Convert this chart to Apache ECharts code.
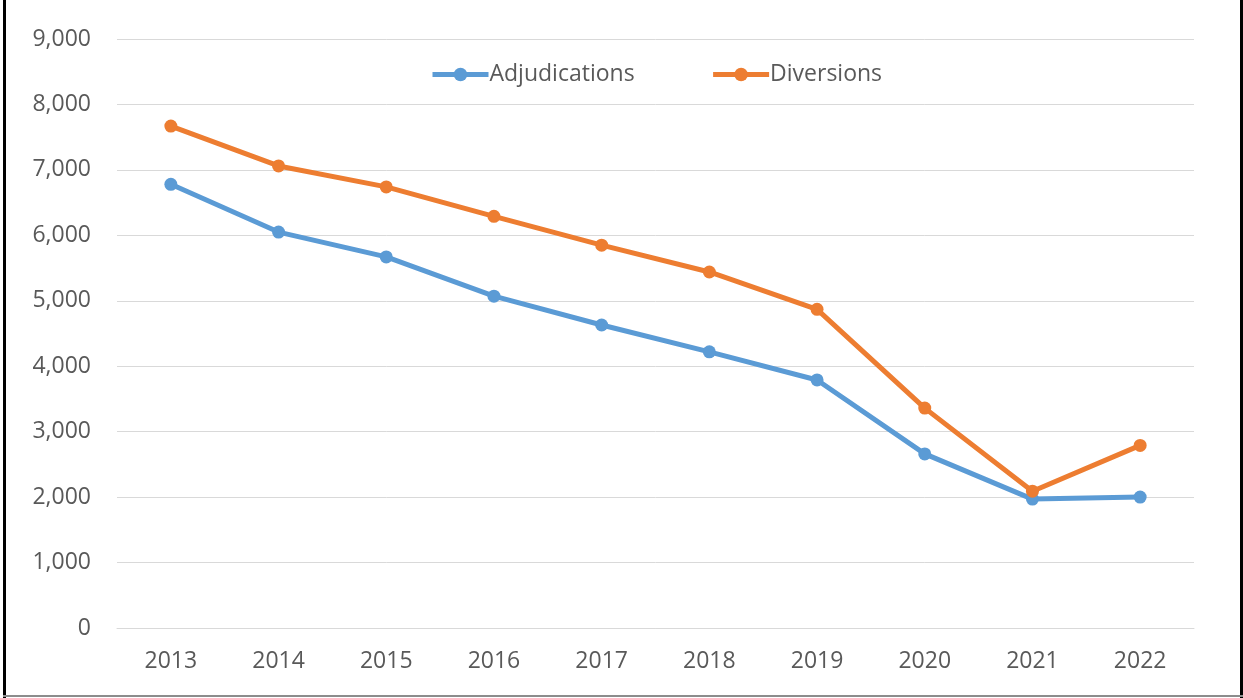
<!DOCTYPE html>
<html>
<head>
<meta charset="utf-8">
<title>Adjudications and Diversions</title>
<script src="https://cdn.jsdelivr.net/npm/echarts@6/dist/echarts.min.js"></script>
<style>
    html, body { margin: 0; padding: 0; background: #fff; }
    #main { width: 1243px; height: 698px; }
</style>
</head>
<body>
<div id="main"></div>
<script>
// data
var years = ['2013', '2014', '2015', '2016', '2017', '2018', '2019', '2020', '2021', '2022'];
var adjudications = [6780, 6050, 5670, 5070, 4630, 4220, 3790, 2660, 1970, 2000];
var diversions = [7670, 7060, 6740, 6290, 5850, 5440, 4870, 3360, 2090, 2790];
var seriesNames = ['Adjudications', 'Diversions'];

var textColor = '#595959';
var fontName = 'Open Sans';

var myChart = echarts.init(document.getElementById('main'));
var option = {
    backgroundColor: '#fff',
    color: ['#5B9BD5', '#ED7D31'],
    textStyle: { fontFamily: fontName },
    legend: {
        data: seriesNames,
        top: 58,
        left: 425,
        itemWidth: 56,
        itemHeight: 17,
        itemGap: 76,
        lineStyle: { width: 5 },
        textStyle: { color: textColor, fontSize: 23, fontFamily: fontName, padding: [0, 0, 0, -4] }
    },
    grid: {
        left: 117,
        right: 49,
        top: 39,
        bottom: 70,
        containLabel: false
    },
    xAxis: {
        type: 'category',
        data: years,
        boundaryGap: true,
        axisLine: { lineStyle: { color: '#d9d9d9', width: 1 } },
        axisTick: { show: false },
        axisLabel: { color: textColor, fontSize: 23, margin: 22 }
    },
    yAxis: {
        type: 'value',
        min: 0,
        max: 9000,
        interval: 1000,
        axisLine: { show: false },
        axisTick: { show: false },
        splitLine: { lineStyle: { color: '#d9d9d9', width: 1 } },
        axisLabel: {
            color: textColor,
            fontSize: 23,
            margin: 26,
            formatter: function (v) { return v.toLocaleString('en-US'); }
        }
    },
    series: [
        {
            name: seriesNames[0],
            type: 'line',
            data: adjudications,
            symbol: 'circle',
            symbolSize: 13,
            lineStyle: { width: 5 },
            z: 3
        },
        {
            name: seriesNames[1],
            type: 'line',
            data: diversions,
            symbol: 'circle',
            symbolSize: 13,
            lineStyle: { width: 5 },
            z: 4
        }
    ],
    graphic: [
        // frame round the chart (no top edge)
        { type: 'rect', shape: { x: 3, y: 0, width: 3, height: 698 }, style: { fill: '#000' } },
        { type: 'rect', shape: { x: 1240, y: 0, width: 3, height: 698 }, style: { fill: '#000' } },
        { type: 'rect', shape: { x: 3, y: 695, width: 1240, height: 2 }, style: { fill: '#8c8c8c' } }
    ]
};
myChart.setOption(option);
</script>
</body>
</html>
